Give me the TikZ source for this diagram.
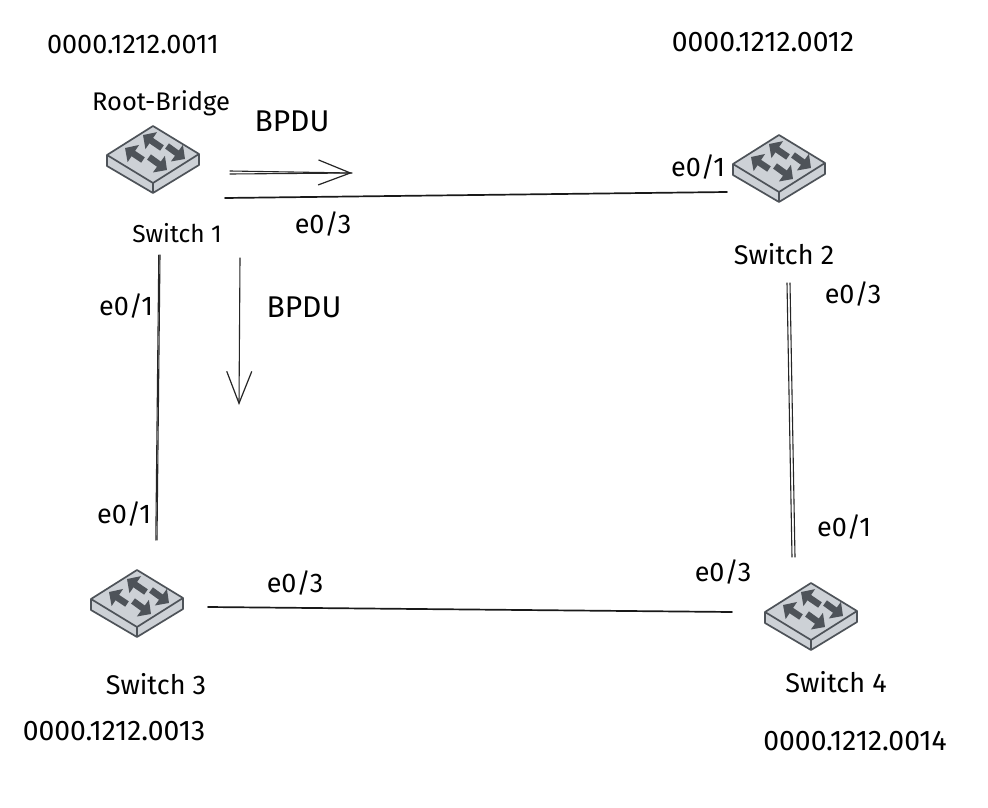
\documentclass[tikz,border=0pt]{standalone}
\usepackage{fontspec}
\setmainfont{Fira Sans}
\usetikzlibrary{arrows.meta}
\tikzset{
  x=1pt,y=-1pt,
  wire/.style={draw=black!90,line width=1.7pt,line cap=round},
  thin wire/.style={draw=black!85,line width=1.1pt,line cap=round},
  addr/.style={font=\fontsize{28.3}{30}\selectfont,inner sep=0pt,anchor=center},
  addrsmall/.style={font=\fontsize{27}{30}\selectfont,inner sep=0pt,anchor=center},
  lab/.style={font=\fontsize{27}{30}\selectfont,inner sep=0pt,anchor=center},
  bpdu/.style={font=\fontsize{30}{32}\selectfont,inner sep=0pt,anchor=center},
  swname/.style={font=\fontsize{27}{30}\selectfont,inner sep=0pt,anchor=center},
  swnamesmall/.style={font=\fontsize{24.5}{28}\selectfont,inner sep=0pt,anchor=center},
  rootname/.style={font=\fontsize{25.5}{28}\selectfont,inner sep=0pt,anchor=center},
  barb/.style={-{Straight Barb[length=32pt,width=25pt,line width=1.2pt]}},
  pics/switchicon/.style={code={
    \fill[fill=swfill] (0,-29)--(46,-1)--(46,10)--(0,38)--(-46,11)--(-46,0)--cycle;
    \draw[draw=swedge,line width=1.7pt,line join=round]
      (0,-29)--(46,-1)--(46,10)--(0,38)--(-46,11)--(-46,0)--cycle
      (-46,0)--(0,28)--(46,-1) (0,28)--(0,38);
    \foreach \ax/\ay/\bx/\by in {9/-7/-10/-20,-10/5/-28/-7,14/-9/32/4,-4/2/14/15}{
      \draw[draw=swedge,line width=6.5pt,-{Triangle[length=10pt,width=20pt]}] (\ax,\ay)--(\bx,\by);
    }
  }}
}
\definecolor{swfill}{HTML}{CDD1D6}
\definecolor{swedge}{HTML}{4E5359}
\begin{document}
\begin{tikzpicture}
\useasboundingbox (0,0) rectangle (988,808);
\fill[white] (0,0) rectangle (988,808);
% switches
\pic (sa) at (153,155) {switchicon};
\pic (sb) at (779,164) {switchicon};
\pic (sc) at (137,599) {switchicon};
\pic (sd) at (811,612) {switchicon};
% free ends of connectors
\coordinate (l1a) at (225,198);
\coordinate (l1b) at (727,192);
\coordinate (l2a) at (160,255);
\coordinate (l2b) at (157,540);
\coordinate (l3a) at (787,283);
\coordinate (l3b) at (792,557);
\coordinate (l4a) at (208,607);
\coordinate (l4b) at (732,612);
\coordinate (b1a) at (230,171);
\coordinate (b1a2) at (230,174);
\coordinate (b1b) at (352,173);
\coordinate (b2a) at (240,258);
\coordinate (b2b) at (239,405);
% links
\draw[wire] (l1a)--(l1b);
\draw[thin wire] (l2a)--(l2b);
\draw[thin wire] ([xshift=-1.2]l2a)--([xshift=-1.2]l2b);
\draw[thin wire] (l3a)--(l3b);
\draw[thin wire] ([xshift=3]l3a)--([xshift=3]l3b);
\draw[wire] (l4a)--(l4b);
% BPDU arrows
\draw[thin wire,barb] (b1a)--(b1b);
\draw[thin wire] (b1a2)--(b1b);
\draw[thin wire,barb] (b2a)--(b2b);
% addresses
\node[addrsmall] (n1) at (133,44) {0000.1212.0011};
\node[addr] (n2) at (763,42) {0000.1212.0012};
\node[addr] (n3) at (114,731) {0000.1212.0013};
\node[addr] (n4) at (855,741) {0000.1212.0014};
% captions
\node[rootname] (rb) at (161,103) {Root-Bridge};
\node[bpdu] (bp1) at (292,121) {BPDU};
\node[bpdu] (bp2) at (304,307) {BPDU};
\node[swnamesmall] (s1) at (177,233) {Switch 1};
\node[swname] (s2) at (784,254) {Switch 2};
\node[swname] (s3) at (156,684) {Switch 3};
\node[swname] (s4) at (836,682) {Switch 4};
% ports
\node[lab] (p1) at (698,167) {e0/1};
\node[lab] (p2) at (323,224) {e0/3};
\node[lab] (p3) at (126,306) {e0/1};
\node[lab] (p4) at (124,514) {e0/1};
\node[lab] (p5) at (853,294) {e0/3};
\node[lab] (p6) at (844,527) {e0/1};
\node[lab] (p7) at (723,572) {e0/3};
\node[lab] (p8) at (295,583) {e0/3};
\end{tikzpicture}
\end{document}
